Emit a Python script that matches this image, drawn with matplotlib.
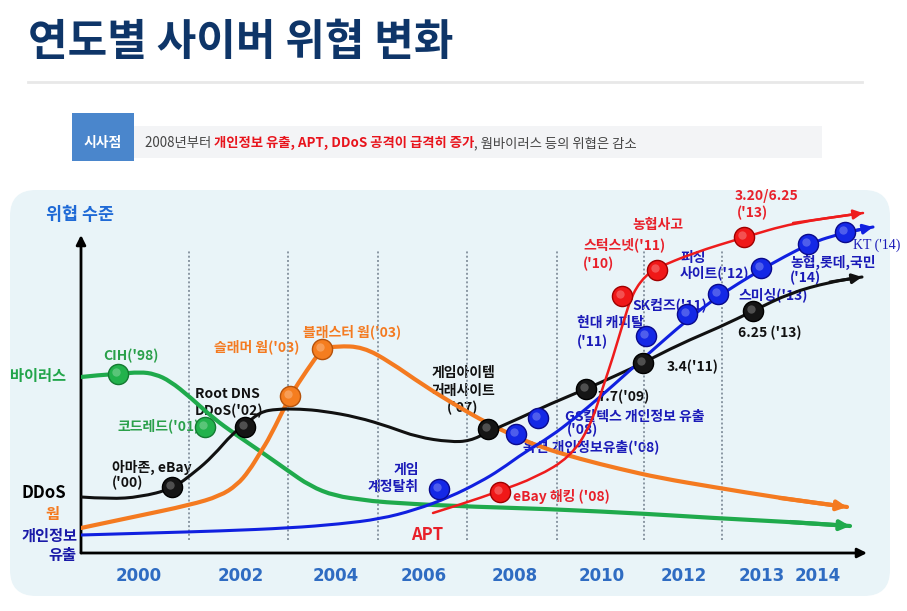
import matplotlib
matplotlib.use("Agg")
import matplotlib.pyplot as plt
from matplotlib.patches import FancyBboxPatch, Rectangle, PathPatch
from matplotlib.path import Path
from matplotlib.transforms import offset_copy

plt.rcParams['font.family'] = ['Noto Sans CJK KR', 'DejaVu Sans']

# ---- data (timeline position, threat level) ----
virus_x = [0, 19, 37, 59, 74, 89, 109, 132, 154, 179, 206, 229, 254, 284, 299, 369, 469, 569, 632, 709, 769]
virus_y = [176, 178, 179, 181, 179, 172, 156, 135, 119, 102, 83, 67, 57, 53, 51, 47, 44, 39, 35, 31, 27]

worm_x = [0, 52, 109, 139, 156, 168, 179, 189, 209, 226, 241, 256, 282, 309, 342, 376, 406, 429, 459, 499, 539, 579, 632, 699, 766]
worm_y = [25, 36, 48, 57, 68, 82, 100, 116, 157, 183, 204, 207, 206, 191, 168, 147, 130, 119, 106, 94, 84, 75, 66, 55, 46]

ddos_x = [0, 29, 59, 91, 114, 132, 152, 164, 179, 196, 219, 242, 276, 309, 336, 369, 389, 407, 439, 469, 505, 534, 562, 599, 639, 672, 709, 749, 781]
ddos_y = [56, 54, 56, 64, 81, 97, 120, 128, 141, 144, 144, 142, 136, 126, 116, 111, 112, 121, 135, 149, 164, 177, 190, 209, 226, 242, 260, 271, 276]

leak_x = [0, 69, 139, 209, 259, 299, 334, 369, 399, 419, 444, 469, 494, 519, 546, 566, 606, 636, 679, 729, 762, 792]
leak_y = [18, 20, 22, 25, 29, 34, 43, 56, 71, 83, 101, 116, 135, 156, 180, 198, 233, 256, 283, 310, 320, 326]

apt_x = [352, 384, 416, 456, 489, 509, 522, 532, 542, 552, 566, 576, 612, 664, 712, 782]
apt_y = [40, 50, 61, 76, 96, 126, 166, 196, 230, 261, 279, 285, 300, 316, 330, 340]

# incidents (points)
virus_ev_x = [37, 124]
virus_ev_y = [179, 126]
worm_ev_x = [209, 241]
worm_ev_y = [157, 204]
ddos_ev_x = [91, 164, 407, 505, 562, 672]
ddos_ev_y = [66, 126, 124, 164, 190, 242]
leak_ev_x = [358, 435, 457, 565, 606, 637, 680, 727, 764]
leak_ev_y = [64, 119, 135, 217, 239, 259, 285, 309, 321]
apt_ev_x = [419, 541, 576, 663]
apt_ev_y = [61, 257, 283, 316]

year_pos = [58, 160, 255, 343, 434, 521, 603, 681, 737]
year_labels = ['2000', '2002', '2004', '2006', '2008', '2010', '2012', '2013', '2014']
grid_pos = [108, 207, 297, 386, 476, 563, 641]

GREEN, ORANGE, BLACK, BLUE, RED = '#1faa4c', '#f47a20', '#111111', '#1020e0', '#ee1c1c'

W, H = 907, 611
fig = plt.figure(figsize=(W / 100, H / 100), dpi=100)
fig.patch.set_facecolor('white')

# background layer in pixel units
bg = fig.add_axes([0, 0, 1, 1])
bg.set_xlim(0, W)
bg.set_ylim(H, 0)
bg.axis('off')

bg.text(28, 42, '연도별 사이버 위협 변화', fontsize=31, fontweight='heavy',
        color='#0e3568', va='center', ha='left')
bg.plot([28, 862], [82, 82], color='#e8e8e8', lw=2)

# banner
bg.add_patch(Rectangle((134, 126), 688, 32, fc='#f3f4f6', ec='none'))
bg.add_patch(Rectangle((72, 113), 62, 48, fc='#4a86cc', ec='none'))
bg.text(103, 143, '시사점', color='white', fontsize=10, fontweight='bold', ha='center', va='center')

renderer = fig.canvas.get_renderer()
parts = [('2008년부터 ', '#444444', 'normal'),
         ('개인정보 유출, APT, DDoS 공격이 급격히 증가', '#e8141c', 'bold'),
         (', 웜바이러스 등의 위협은 감소', '#444444', 'normal')]
xpos = 145
for s, c, w in parts:
    t = bg.text(xpos, 143, s, color=c, fontsize=9.6, fontweight=w, ha='left', va='center')
    xpos += t.get_window_extent(renderer).width

# chart panel
bg.add_patch(FancyBboxPatch((10, 190), 880, 406, boxstyle='round,pad=0,rounding_size=26',
                            fc='#e9f4f8', ec='none'))

bg.text(80, 215, '위협 수준', color='#1f6ad6', fontsize=12.5, fontweight='bold', ha='center', va='center')
bg.text(38, 376, '바이러스', color='#22a54a', fontsize=11, fontweight='bold', ha='center', va='center')
bg.text(44, 493, 'DDoS', color='black', fontsize=12, fontweight='bold', ha='center', va='center')
bg.text(52, 514, '웜', color=ORANGE, fontsize=11, fontweight='bold', ha='center', va='center')
bg.text(50, 536, '개인정보', color='#1a1aa8', fontsize=11, fontweight='bold', ha='center', va='center')
bg.text(62, 555, '유출', color='#1a1aa8', fontsize=11, fontweight='bold', ha='center', va='center')

labels = [
    (131, 356, "CIH('98)", '#2aa04a', 'center'),
    (118, 426, "코드레드('01)", '#2aa04a', 'left'),
    (195, 394, 'Root DNS', BLACK, 'left'),
    (195, 411, "DDoS('02)", BLACK, 'left'),
    (112, 467, '아마존, eBay', BLACK, 'left'),
    (112, 483, "('00)", BLACK, 'left'),
    (214, 347, "슬래머 웜('03)", ORANGE, 'left'),
    (303, 332, "블래스터 웜('03)", ORANGE, 'left'),
    (463, 373, '게임아이템', BLACK, 'center'),
    (463, 391, '거래사이트', BLACK, 'center'),
    (463, 408, "('07)", BLACK, 'center'),
    (419, 470, '게임', '#1a1ab8', 'right'),
    (419, 487, '계정탈취', '#1a1ab8', 'right'),
    (513, 497, "eBay 해킹 ('08)", '#e8202a', 'left'),
    (565, 417, 'GS칼텍스 개인정보 유출', '#1a1ab8', 'left'),
    (567, 430, "('08)", '#1a1ab8', 'left'),
    (523, 447, "옥션 개인정보유출('08)", '#1a1ab8', 'left'),
    (597, 397, "7.7('09)", BLACK, 'left'),
    (667, 367, "3.4('11)", BLACK, 'left'),
    (577, 323, '현대 캐피탈', '#1a1ab8', 'left'),
    (577, 342, "('11)", '#1a1ab8', 'left'),
    (632, 305, "SK컴즈('11)", '#1a1ab8', 'left'),
    (680, 258, '피싱', '#1a1ab8', 'left'),
    (680, 273, "사이트('12)", '#1a1ab8', 'left'),
    (738, 295, "스미싱('13)", '#1a1ab8', 'left'),
    (738, 333, "6.25 ('13)", BLACK, 'left'),
    (790, 262, '농협,롯데,국민', '#1a1ab8', 'left'),
    (790, 278, "('14)", '#1a1ab8', 'left'),
    (583, 245, "스턱스넷('11)", '#e8202a', 'left'),
    (583, 264, "('10)", '#e8202a', 'left'),
    (632, 225, '농협사고', '#e8202a', 'left'),
    (735, 196, '3.20/6.25', '#e8202a', 'left'),
    (737, 213, "('13)", '#e8202a', 'left'),
]
for x, y, s, c, ha in labels:
    bg.text(x, y, s, color=c, fontsize=10, fontweight='bold', ha=ha, va='center')
bg.text(853, 245, "KT ('14)", color='#1a1ab8', fontsize=10, family='Liberation Serif', ha='left', va='center')
bg.text(427, 535, 'APT', color='#e8202a', fontsize=12, fontweight='bold', ha='center', va='center')

# ---- chart layer ----
ax = fig.add_axes([81 / W, (H - 553) / H, 800 / W, 350 / H])
ax.set_xlim(0, 800)
ax.set_ylim(0, 350)
ax.patch.set_alpha(0)
for sp in ax.spines.values():
    sp.set_visible(False)
ax.set_yticks([])
ax.set_xticks(year_pos)
ax.set_xticklabels(year_labels, family='Liberation Sans Narrow', fontweight='bold',
                   fontsize=12, color='#2f6cc2')
ax.tick_params(axis='x', length=0, pad=10)

for gx in grid_pos:
    ax.plot([gx, gx], [13, 303], color='#8a97a3', lw=1.4, ls=(0, (1, 1.2)), zorder=1)

ax.annotate('', xy=(0, 318), xytext=(0, 0),
            arrowprops=dict(arrowstyle='-|>', color='black', lw=2, mutation_scale=14, shrinkA=0, shrinkB=0))
ax.annotate('', xy=(786, 0), xytext=(0, 0),
            arrowprops=dict(arrowstyle='-|>', color='black', lw=2, mutation_scale=14, shrinkA=0, shrinkB=0))


def smooth_path(xs, ys):
    # quadratic bezier through midpoints, the read points act as control points
    verts = [(xs[0], ys[0])]
    codes = [Path.MOVETO]
    for i in range(1, len(xs) - 1):
        verts += [(xs[i], ys[i]), ((xs[i] + xs[i + 1]) / 2, (ys[i] + ys[i + 1]) / 2)]
        codes += [Path.CURVE3, Path.CURVE3]
    verts.append((xs[-1], ys[-1]))
    codes.append(Path.LINETO)
    return Path(verts, codes)


series = [
    (virus_x, virus_y, GREEN, 3.0, virus_ev_x, virus_ev_y, '#22b24c', '#147a32'),
    (worm_x, worm_y, ORANGE, 3.0, worm_ev_x, worm_ev_y, '#f57d1f', '#b5520c'),
    (ddos_x, ddos_y, BLACK, 2.2, ddos_ev_x, ddos_ev_y, '#151515', '#000000'),
    (leak_x, leak_y, BLUE, 2.2, leak_ev_x, leak_ev_y, '#1428e6', '#0a0a8c'),
    (apt_x, apt_y, RED, 1.8, apt_ev_x, apt_ev_y, '#f01818', '#a00000'),
]
hl = offset_copy(ax.transData, fig=fig, x=-2.5, y=2.5, units='dots')
for xs, ys, col, lw, ex, ey, mfc, mec in series:
    ax.add_patch(PathPatch(smooth_path(xs, ys), fc='none', ec=col, lw=lw,
                           capstyle='round', joinstyle='round', zorder=3))
    ax.annotate('', xy=(xs[-1], ys[-1]), xytext=(xs[-2], ys[-2]),
                arrowprops=dict(arrowstyle='-|>', color=col, lw=lw, mutation_scale=14,
                                shrinkA=0, shrinkB=0), zorder=3)
    ax.plot(ex, ey, 'o', ms=14.5, mfc=mfc, mec=mec, mew=1.0, zorder=5)
    ax.plot(ex, ey, 'o', ms=6, mfc='white', mec='none', alpha=0.25, transform=hl, zorder=6)

fig.savefig('out.png', dpi=100)
